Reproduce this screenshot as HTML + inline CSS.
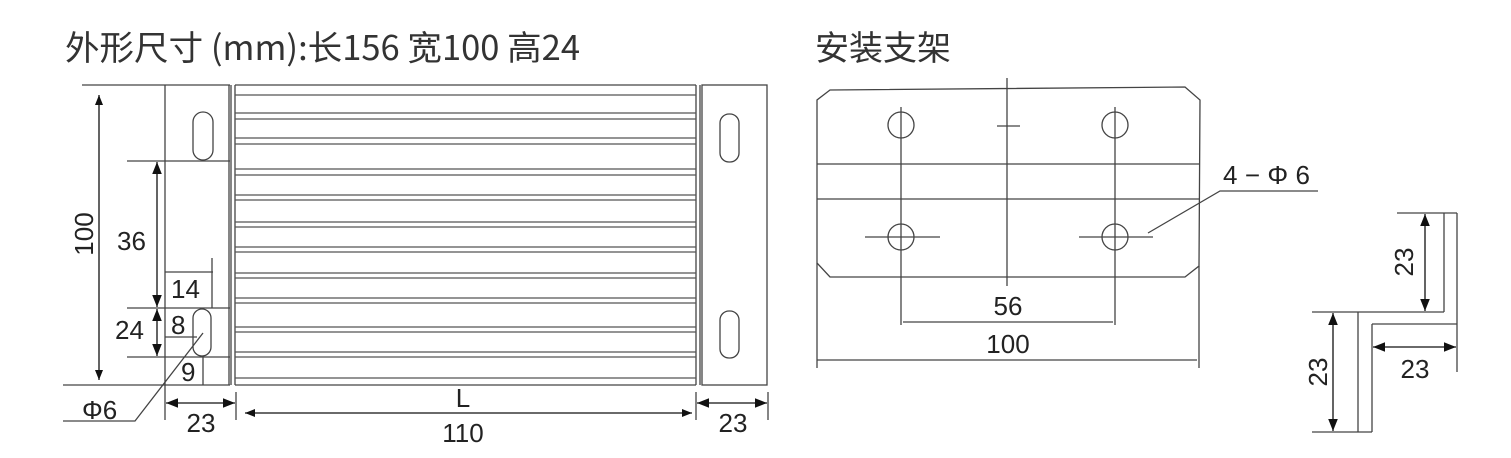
<!DOCTYPE html>
<html><head><meta charset="utf-8"><style>
html,body{margin:0;padding:0;background:#fff;}
svg{display:block;}
text{font-family:"Liberation Sans","DejaVu Sans","Noto Sans CJK SC",sans-serif;fill:#222;}
.t{font-family:"Noto Sans CJK SC","Liberation Sans",sans-serif;fill:#333;font-size:34px;}
</style></head><body>
<svg width="1511" height="458" viewBox="0 0 1511 458" xmlns="http://www.w3.org/2000/svg">
<defs>
<marker id="a" viewBox="0 0 10 10" refX="10" refY="5" markerWidth="10" markerHeight="10" markerUnits="userSpaceOnUse" orient="auto-start-reverse"><path d="M0,1 L10,5 L0,9 z" fill="#111"/></marker>
<marker id="b" viewBox="0 0 10 10" refX="10" refY="5" markerWidth="14" markerHeight="12" markerUnits="userSpaceOnUse" orient="auto-start-reverse"><path d="M0,1 L10,5 L0,9 z" fill="#111"/></marker>
</defs>
<text class="t" x="65" y="60" textLength="515" lengthAdjust="spacingAndGlyphs">外形尺寸 (mm):长156 宽100 高24</text>
<text class="t" x="815" y="60">安装支架</text>
<g stroke="#444" stroke-width="1.3" fill="none">
<line x1="82" y1="85" x2="230" y2="85"/><line x1="63" y1="385" x2="230" y2="385"/>
<line x1="165" y1="85" x2="165" y2="420"/><line x1="229" y1="85" x2="229" y2="385"/>
<line x1="127" y1="161" x2="230" y2="161"/>
<line x1="127" y1="308" x2="230" y2="308"/>
<line x1="127" y1="357" x2="230" y2="357"/>
<line x1="165" y1="272" x2="213" y2="272"/><line x1="212" y1="258" x2="212" y2="308"/>
<line x1="165" y1="337" x2="197" y2="337"/>
<line x1="203" y1="357" x2="203" y2="385"/>
<rect x="193" y="112" width="20" height="48" rx="10"/>
<rect x="193" y="309" width="18" height="47" rx="9"/>
<polyline points="203,333 135,421 63,421"/>
<line x1="236" y1="392" x2="236" y2="420"/>
<line x1="231" y1="85" x2="231" y2="385"/><line x1="235" y1="85" x2="235" y2="385"/>
<line x1="696" y1="85" x2="696" y2="385"/><line x1="700" y1="85" x2="700" y2="385"/>
<line x1="235" y1="85" x2="696" y2="85"/><line x1="235" y1="385" x2="696" y2="385"/>
<g stroke="#555" stroke-width="1.2">
<path d="M235 95H696M235 113H696M235 119H696M235 138H696M235 144H696M235 169H696M235 175H696M235 195H696M235 200H696M235 222H696M235 227H696M235 247H696M235 252H696M235 273H696M235 278H696M235 298H696M235 303H696M235 327H696M235 332H696M235 352H696M235 357H696M235 378H696"/>
</g>
<rect x="702" y="85" width="65" height="300"/>
<rect x="720" y="114" width="19" height="48" rx="9"/>
<rect x="720" y="311" width="19" height="47" rx="9"/>
<line x1="696" y1="392" x2="696" y2="420"/><line x1="768" y1="392" x2="768" y2="420"/>
<path d="M830,90 L1185,87 L1200,100 L1199,266 L1185,277 L830,277 L817,263 L817,100 Z"/>
<line x1="817" y1="263" x2="817" y2="368"/><line x1="1199" y1="266" x2="1199" y2="368"/>
<line x1="817" y1="164" x2="1199" y2="164"/><line x1="817" y1="199" x2="1199" y2="199"/>
<line x1="1007" y1="78" x2="1007" y2="286"/><line x1="997" y1="126" x2="1020" y2="126"/>
<circle cx="901" cy="125" r="13"/><circle cx="1115" cy="125" r="13"/>
<circle cx="901" cy="237" r="13"/><circle cx="1115" cy="237" r="13"/>
<line x1="901" y1="107" x2="901" y2="325"/><line x1="1115" y1="107" x2="1115" y2="325"/>
<line x1="865" y1="237" x2="940" y2="237"/><line x1="1079" y1="237" x2="1153" y2="237"/>
<line x1="903" y1="322" x2="1113" y2="322"/>
<line x1="817" y1="360" x2="1197" y2="360"/>
<polyline points="1148,233 1220,191 1318,191"/>
<line x1="1397" y1="213" x2="1457" y2="213"/>
<line x1="1444" y1="213" x2="1444" y2="312"/><line x1="1457" y1="213" x2="1457" y2="372"/>
<line x1="1312" y1="312" x2="1444" y2="312"/>
<line x1="1358" y1="312" x2="1358" y2="432"/><line x1="1372" y1="324" x2="1372" y2="432"/>
<line x1="1372" y1="324" x2="1457" y2="324"/>
<line x1="1312" y1="432" x2="1372" y2="432"/>
</g>
<g stroke="#111" stroke-width="1.3">
<line x1="99" y1="95" x2="99" y2="380" marker-start="url(#a)" marker-end="url(#a)"/>
<line x1="157" y1="162" x2="157" y2="307" marker-start="url(#b)" marker-end="url(#b)"/>
<line x1="157" y1="309" x2="157" y2="356" marker-start="url(#b)" marker-end="url(#b)"/>
<line x1="166" y1="403" x2="235" y2="403" marker-start="url(#b)" marker-end="url(#b)"/>
<line x1="245" y1="413" x2="692" y2="413" marker-start="url(#a)" marker-end="url(#a)"/>
<line x1="697" y1="403" x2="767" y2="403" marker-start="url(#b)" marker-end="url(#b)"/>
<line x1="1425" y1="214" x2="1425" y2="311" marker-start="url(#b)" marker-end="url(#b)"/>
<line x1="1333" y1="313" x2="1333" y2="431" marker-start="url(#b)" marker-end="url(#b)"/>
<line x1="1373" y1="347" x2="1456" y2="347" marker-start="url(#b)" marker-end="url(#b)"/>
</g>
<g font-size="26">
<text x="97" y="234" text-anchor="middle" transform="rotate(-90 97 234)" dy="-4">100</text>
<text x="117" y="250">36</text>
<text x="171" y="298">14</text>
<text x="115" y="339">24</text>
<text x="171" y="334">8</text>
<text x="181" y="381">9</text>
<text x="82" y="419">Φ6</text>
<text x="201" y="432" text-anchor="middle">23</text>
<text x="463" y="407" text-anchor="middle">L</text>
<text x="463" y="442" text-anchor="middle">110</text>
<text x="733" y="432" text-anchor="middle">23</text>
<text x="1008" y="315" text-anchor="middle">56</text>
<text x="1008" y="353" text-anchor="middle">100</text>
<text x="1223" y="184" textLength="87" lengthAdjust="spacing">4−Φ6</text>
<text x="1415" y="378" text-anchor="middle">23</text>
<text x="1404" y="262" text-anchor="middle" transform="rotate(-90 1404 262)" dy="9">23</text>
<text x="1318" y="372" text-anchor="middle" transform="rotate(-90 1318 372)" dy="9">23</text>
</g>
</svg>
</body></html>
